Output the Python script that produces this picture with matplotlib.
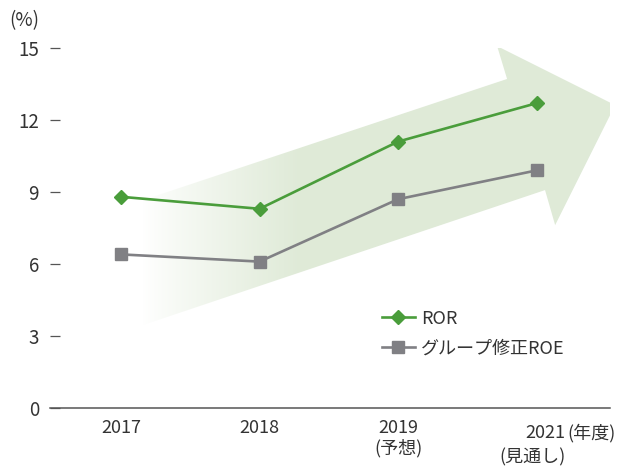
import matplotlib
matplotlib.use('Agg')
import matplotlib.pyplot as plt
import numpy as np
from matplotlib.patches import Polygon

plt.rcParams['font.family'] = ['Noto Sans CJK JP', 'DejaVu Sans']

# ── Colours ───────────────────────────────────────────────────────────
ROR_CLR   = '#4a9d3b'
ROE_CLR   = '#808084'
ARROW_CLR = (0.878, 0.918, 0.847)
TEXT_CLR  = '#333333'
AXIS_CLR  = '#555555'

# ── Data ──────────────────────────────────────────────────────────────
years = ['2017', '2018', '2019\n(予想)', '2021']
ror = [8.8, 8.3, 11.1, 12.7]
roe = [6.4, 6.1, 8.7, 9.9]
yticks = [0, 3, 6, 9, 12, 15]

W, H = 619, 466
fig = plt.figure(figsize=(W / 100, H / 100), dpi=100)
ax = fig.add_axes([50 / W, (H - 408) / H, 560 / W, 360 / H])

x = np.arange(len(years))

# ── Background arrow with horizontal gradient ─────────────────────────
arrow_pts = [(0.115, 8.58), (2.787, 13.71), (2.715, 15.08), (3.567, 12.62),
             (3.134, 7.62), (3.061, 9.08), (0.115, 3.37)]
poly = Polygon(arrow_pts, closed=True, facecolor='none', edgecolor='none',
               transform=ax.transData)
ax.add_patch(poly)
poly.set_clip_on(False)
grad = np.clip(np.linspace(-0.03, 3.0, 400), 0, 1) ** 0.9
img = np.zeros((2, 400, 4))
img[..., 0], img[..., 1], img[..., 2] = ARROW_CLR
img[..., 3] = grad
im = ax.imshow(img, extent=(0.115, 3.567, 3.37, 15.08), aspect='auto',
               interpolation='bilinear', zorder=1, origin='lower')
im.set_clip_path(poly)
ax.set_xlim(-0.513, 3.53)
ax.set_ylim(0, 15)

# ── Lines ─────────────────────────────────────────────────────────────
ax.plot(x, ror, color=ROR_CLR, lw=1.9, marker='D', ms=7.2, zorder=4,
        label='ROR', clip_on=False)
ax.plot(x, roe, color=ROE_CLR, lw=1.9, marker='s', ms=8.6, zorder=4,
        label='グループ修正ROE', clip_on=False)

# ── Axes styling ──────────────────────────────────────────────────────
for s in ['top', 'right', 'left']:
    ax.spines[s].set_visible(False)
ax.spines['bottom'].set_color(AXIS_CLR)
ax.spines['bottom'].set_linewidth(1.1)

ax.set_yticks(yticks)
ax.set_yticklabels([str(v) for v in yticks])
ax.tick_params(axis='y', direction='in', length=7.5, width=0.9,
               color=AXIS_CLR, pad=8, labelsize=13.5, labelcolor=TEXT_CLR)
ax.set_xticks(x[:3])
ax.set_xticklabels(years[:3], linespacing=1.1)
ax.tick_params(axis='x', length=0, pad=8, labelsize=13, labelcolor=TEXT_CLR)

# 2021 label with unit and forecast note
xt = ax.get_xaxis_transform()
ax.text(3.06, -0.045, years[3], transform=xt, ha='center', va='top',
        fontsize=13, color=TEXT_CLR)
ax.text(3.22, -0.045, '(年度)', transform=xt, ha='left', va='top',
        fontsize=13, color=TEXT_CLR)
ax.text(2.967, -0.111, '(見通し)', transform=xt, ha='center', va='top',
        fontsize=13, color=TEXT_CLR)

fig.text(9 / W, 1 - 21 / H, '(%)', ha='left', va='center', fontsize=13.5,
         color=TEXT_CLR)

# ── Legend ────────────────────────────────────────────────────────────
leg = ax.legend(loc='center left', bbox_to_anchor=(0.593, 0.207),
                frameon=False, fontsize=13, handlelength=1.8,
                handletextpad=0.35, labelspacing=0.65, borderpad=0,
                borderaxespad=0)
for t in leg.get_texts():
    t.set_color(TEXT_CLR)

fig.savefig('out.png', dpi=100, facecolor='white')
plt.close()
